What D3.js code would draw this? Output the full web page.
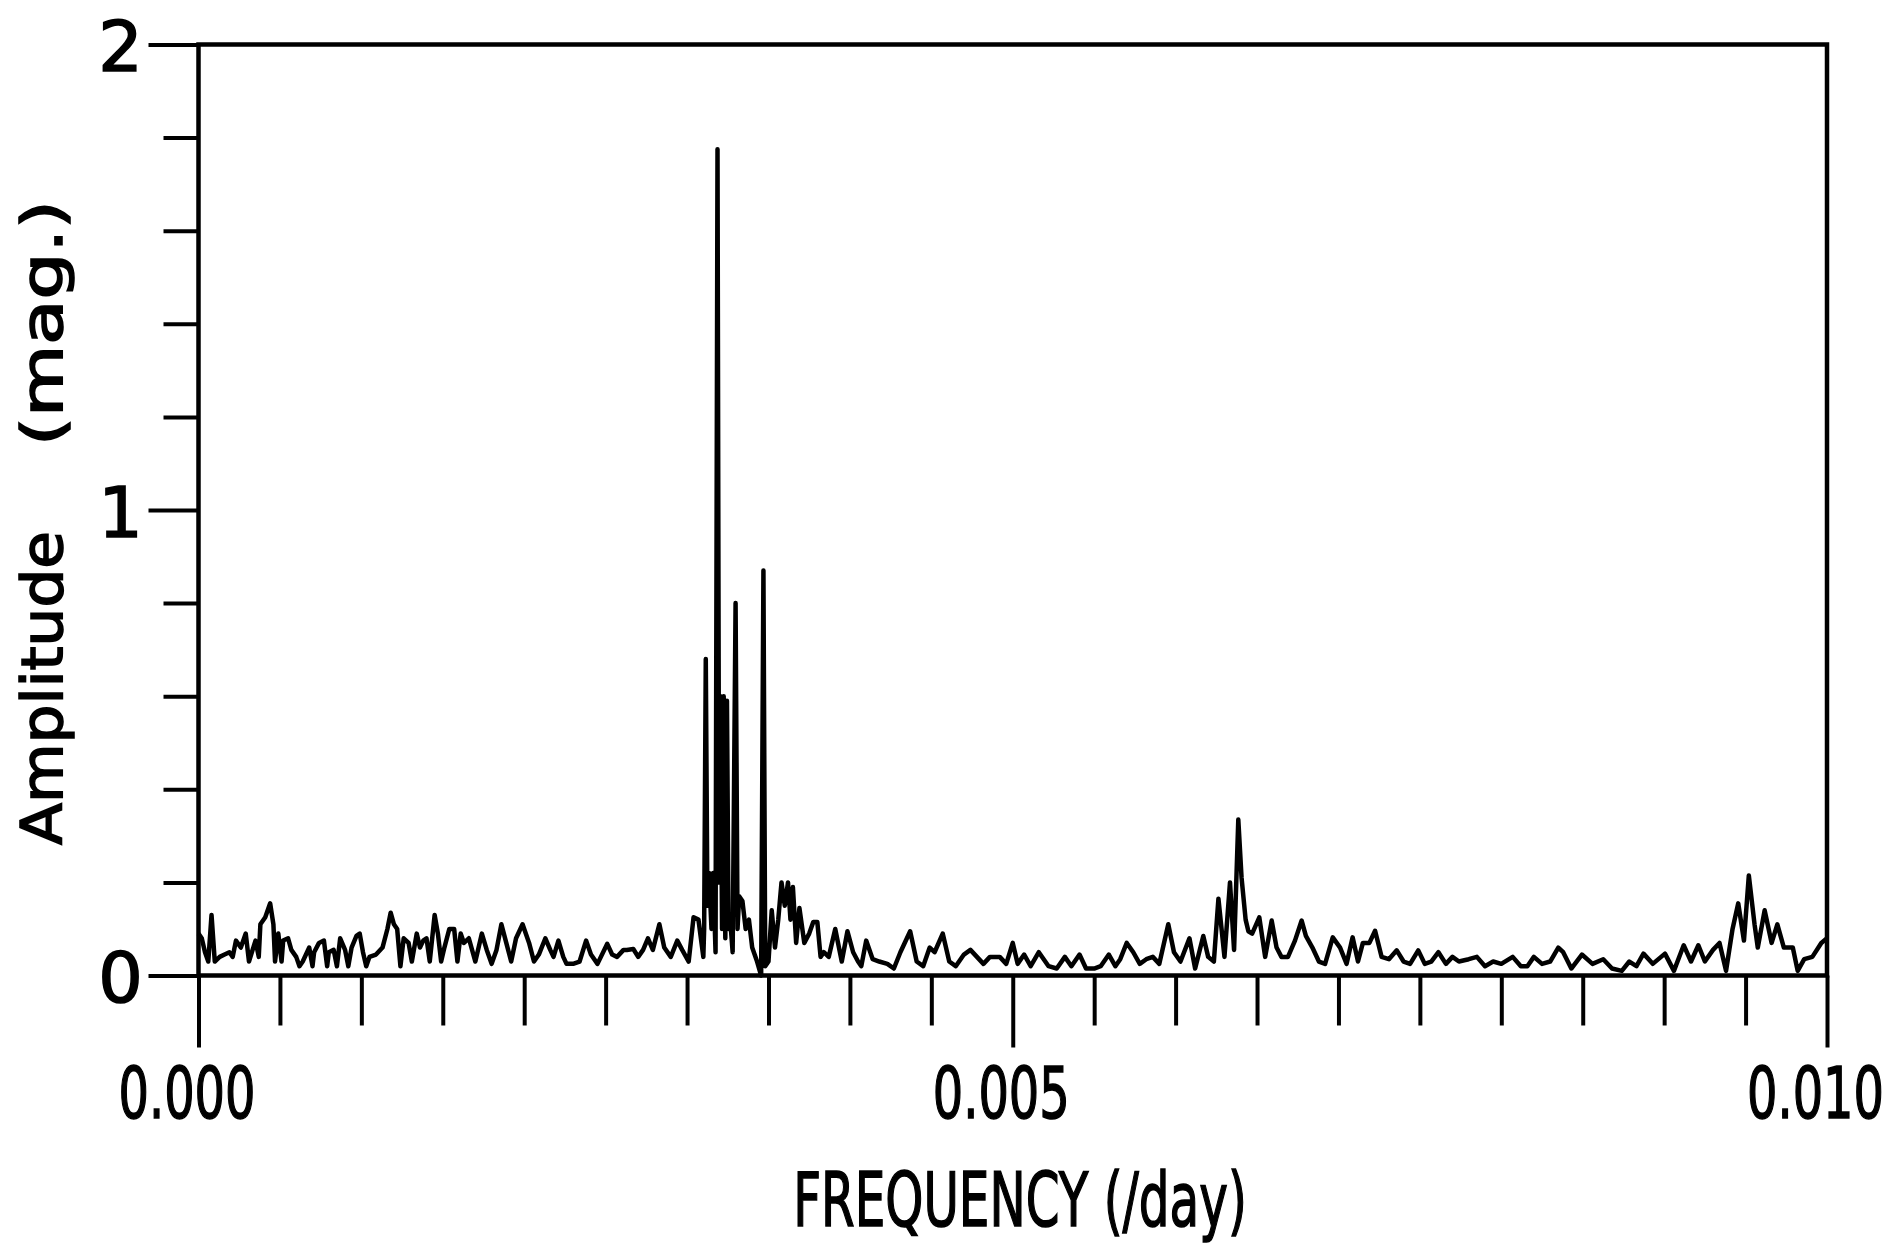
<!DOCTYPE html>
<html>
<head>
<meta charset="utf-8">
<script src="https://cdn.jsdelivr.net/npm/d3@7"></script>
<style>
  html, body { margin: 0; padding: 0; background: #fff; }
  svg { display: block; }
  .frame { fill: none; stroke: #000; stroke-width: 4.5; }
  .trace { fill: none; stroke: #000; stroke-width: 4.5; stroke-linejoin: round; }
  .tick line { stroke: #000; stroke-width: 4; }
  .axis-text { font-family: 'DejaVu Sans', sans-serif; fill: #000; stroke: #000; stroke-width: 1.6; }
</style>
</head>
<body>
<div id="chart"></div>
<script>
// Tick values and labels
const xMajorTicks = [0, 0.005, 0.010]
const xTickLabels = ['0.000', '0.005', '0.010']
const yMajorTicks = [0, 1, 2]
const yTickLabels = ['0', '1', '2']
const xTitle = 'FREQUENCY  (/day)'
const yTitle = ['Amplitude', '(mag.)']

// Amplitude spectrum: [frequency (/day), amplitude (mag.)]
const spectrum = [
  [0.00000, 0.09], [0.00002, 0.08], [0.00004, 0.05], [0.00006, 0.03], [0.00008, 0.13],
  [0.00010, 0.03], [0.00013, 0.04], [0.00016, 0.045], [0.00019, 0.05], [0.00021, 0.04],
  [0.00023, 0.075], [0.00026, 0.06], [0.00029, 0.09], [0.00031, 0.03], [0.00035, 0.075],
  [0.00037, 0.04], [0.00038, 0.11], [0.00041, 0.125], [0.00044, 0.155], [0.00046, 0.11],
  [0.00047, 0.03], [0.00049, 0.09], [0.00051, 0.03], [0.00052, 0.075], [0.00055, 0.08],
  [0.00057, 0.055], [0.00060, 0.04], [0.00062, 0.02], [0.00064, 0.03], [0.00068, 0.06],
  [0.00070, 0.02], [0.00071, 0.05], [0.00074, 0.07], [0.00077, 0.075], [0.00079, 0.02],
  [0.00080, 0.05], [0.00083, 0.055], [0.00085, 0.02], [0.00087, 0.08], [0.00090, 0.055],
  [0.00092, 0.02], [0.00094, 0.06], [0.00097, 0.085], [0.00099, 0.09], [0.00101, 0.05],
  [0.00103, 0.02], [0.00105, 0.04], [0.00109, 0.045], [0.00113, 0.06], [0.00116, 0.10],
  [0.00118, 0.135], [0.00120, 0.11], [0.00122, 0.10], [0.00124, 0.02], [0.00126, 0.08],
  [0.00129, 0.07], [0.00131, 0.03], [0.00134, 0.09], [0.00136, 0.06], [0.00138, 0.075],
  [0.00140, 0.08], [0.00142, 0.03], [0.00145, 0.13], [0.00147, 0.09], [0.00149, 0.03],
  [0.00151, 0.06], [0.00154, 0.10], [0.00157, 0.10], [0.00159, 0.03], [0.00161, 0.09],
  [0.00163, 0.07], [0.00166, 0.08], [0.00170, 0.03], [0.00174, 0.09], [0.00177, 0.055],
  [0.00180, 0.025], [0.00183, 0.055], [0.00186, 0.11], [0.00189, 0.07], [0.00192, 0.03],
  [0.00195, 0.08], [0.00199, 0.11], [0.00203, 0.07], [0.00206, 0.03], [0.00209, 0.045],
  [0.00213, 0.08], [0.00216, 0.055], [0.00218, 0.04], [0.00221, 0.075], [0.00224, 0.04],
  [0.00226, 0.025], [0.00230, 0.025], [0.00234, 0.03], [0.00238, 0.075], [0.00241, 0.045],
  [0.00245, 0.025], [0.00251, 0.068], [0.00254, 0.045], [0.00257, 0.04], [0.00261, 0.055],
  [0.00263, 0.055], [0.00267, 0.057], [0.00270, 0.04], [0.00273, 0.055], [0.00276, 0.08],
  [0.00279, 0.055], [0.00283, 0.11], [0.00286, 0.06], [0.00290, 0.04], [0.00294, 0.075],
  [0.00297, 0.055], [0.00301, 0.03], [0.00304, 0.125], [0.00307, 0.12], [0.00310, 0.04],
  [0.003105, 0.10], [0.003115, 0.68], [0.003125, 0.15], [0.003135, 0.22], [0.00315, 0.10],
  [0.00316, 0.22], [0.003175, 0.05], [0.003187, 1.775], [0.003197, 0.20], [0.003205, 0.60],
  [0.003215, 0.10], [0.003225, 0.60], [0.003235, 0.08], [0.003245, 0.59], [0.003255, 0.10],
  [0.003265, 0.12], [0.00328, 0.05], [0.003298, 0.80], [0.00331, 0.10], [0.00332, 0.17],
  [0.00334, 0.16], [0.00336, 0.10], [0.00338, 0.12], [0.00340, 0.06], [0.00343, 0.03],
  [0.003455, 0.0], [0.003469, 0.87], [0.00348, 0.02], [0.00350, 0.03], [0.00352, 0.14],
  [0.00354, 0.06], [0.00356, 0.12], [0.00358, 0.20], [0.00360, 0.15], [0.00362, 0.20],
  [0.003635, 0.12], [0.00365, 0.19], [0.00367, 0.07], [0.00369, 0.145], [0.00372, 0.07],
  [0.00375, 0.09], [0.003775, 0.115], [0.00380, 0.115], [0.00382, 0.04], [0.00384, 0.05],
  [0.00387, 0.04], [0.00391, 0.10], [0.00395, 0.03], [0.003985, 0.095], [0.00402, 0.05],
  [0.00405, 0.03], [0.00407, 0.02], [0.00410, 0.075], [0.00414, 0.035], [0.00418, 0.03],
  [0.00423, 0.025], [0.00427, 0.015], [0.00431, 0.05], [0.00437, 0.095], [0.00441, 0.03],
  [0.00445, 0.02], [0.00449, 0.06], [0.00452, 0.05], [0.00457, 0.09], [0.00461, 0.03],
  [0.00465, 0.02], [0.00470, 0.045], [0.00474, 0.055], [0.00478, 0.04], [0.00482, 0.025],
  [0.00486, 0.04], [0.00492, 0.04], [0.00496, 0.025], [0.00500, 0.07], [0.00503, 0.025],
  [0.00507, 0.045], [0.00511, 0.02], [0.00516, 0.05], [0.00519, 0.035], [0.00522, 0.02],
  [0.00527, 0.015], [0.00532, 0.04], [0.00536, 0.02], [0.00541, 0.045], [0.00545, 0.015],
  [0.00550, 0.015], [0.00554, 0.02], [0.00559, 0.045], [0.00563, 0.02], [0.00566, 0.035],
  [0.00570, 0.07], [0.00574, 0.05], [0.00578, 0.025], [0.00582, 0.035], [0.00586, 0.04],
  [0.00590, 0.025], [0.005955, 0.11], [0.00599, 0.05], [0.00603, 0.03], [0.006085, 0.08],
  [0.00612, 0.015], [0.00617, 0.085], [0.00620, 0.04], [0.006235, 0.03], [0.006263, 0.165],
  [0.00630, 0.04], [0.006334, 0.20], [0.006359, 0.055], [0.006385, 0.335], [0.006405, 0.21],
  [0.00643, 0.12], [0.006447, 0.095], [0.00647, 0.09], [0.006514, 0.125], [0.00655, 0.04],
  [0.00659, 0.118], [0.00662, 0.06], [0.00665, 0.04], [0.00669, 0.04], [0.006733, 0.075],
  [0.006774, 0.118], [0.00680, 0.085], [0.00684, 0.06], [0.00688, 0.03], [0.006918, 0.025],
  [0.006965, 0.082], [0.00701, 0.06], [0.00705, 0.025], [0.007087, 0.082], [0.00712, 0.03],
  [0.00715, 0.07], [0.00719, 0.07], [0.007225, 0.096], [0.007265, 0.04], [0.00731, 0.035],
  [0.007358, 0.054], [0.00740, 0.03], [0.00744, 0.025], [0.00749, 0.054], [0.00753, 0.025],
  [0.00757, 0.03], [0.007614, 0.05], [0.00766, 0.025], [0.00770, 0.04], [0.00774, 0.03],
  [0.00780, 0.035], [0.00785, 0.04], [0.00790, 0.02], [0.00795, 0.03], [0.00800, 0.025],
  [0.00807, 0.04], [0.00812, 0.02], [0.00816, 0.02], [0.00820, 0.04], [0.00825, 0.025],
  [0.00830, 0.03], [0.00835, 0.06], [0.00838, 0.05], [0.00843, 0.015], [0.008495, 0.045],
  [0.00856, 0.025], [0.008626, 0.035], [0.00868, 0.015], [0.00874, 0.01], [0.008786, 0.03],
  [0.00883, 0.02], [0.008873, 0.047], [0.00893, 0.025], [0.009005, 0.047], [0.00906, 0.01],
  [0.00912, 0.065], [0.009165, 0.03], [0.00921, 0.065], [0.00925, 0.03], [0.00930, 0.055],
  [0.00934, 0.07], [0.00938, 0.01], [0.00942, 0.10], [0.009455, 0.155], [0.00949, 0.075],
  [0.00952, 0.215], [0.009555, 0.11], [0.009575, 0.06], [0.009617, 0.14], [0.00966, 0.07],
  [0.009695, 0.11], [0.009735, 0.06], [0.00979, 0.06], [0.00982, 0.01], [0.00986, 0.035],
  [0.00991, 0.04], [0.009965, 0.07], [0.01000, 0.08]
]

const containerElement = '#chart'
const width = 1894
const height = 1249
const margin = { top: 44.5, right: 67, bottom: 273.5, left: 198.5 }
const innerWidth = width - margin.left - margin.right
const innerHeight = height - margin.top - margin.bottom

const svg = d3.select(containerElement)
  .append('svg')
  .attr('width', width)
  .attr('height', height)

const g = svg.append('g')
  .attr('transform', `translate(${margin.left}, ${margin.top})`)

// Scales
const xScale = d3.scaleLinear().domain([0, 0.010]).range([0, innerWidth])
const yScale = d3.scaleLinear().domain([0, 2]).range([innerHeight, 0])

// Minor ticks every 0.0005 and 0.2
const isMajor = (list, d) => list.some(m => Math.abs(m - d) < 1e-9)
const xMinorTicks = xScale.ticks(20).filter(d => !isMajor(xMajorTicks, d))
const yMinorTicks = yScale.ticks(10).filter(d => !isMajor(yMajorTicks, d))

// Narrow lettering for the frequency labels
const xLabelSqueeze = 0.665

// Bottom axis - minor ticks
g.append('g')
  .attr('transform', `translate(0, ${innerHeight})`)
  .call(d3.axisBottom(xScale).tickValues(xMinorTicks).tickSize(50).tickFormat(''))
  .call(ax => ax.select('.domain').remove())

// Bottom axis - major ticks with labels
g.append('g')
  .attr('transform', `translate(0, ${innerHeight})`)
  .call(d3.axisBottom(xScale).tickValues(xMajorTicks).tickSize(72)
    .tickFormat((d, i) => xTickLabels[i]))
  .call(ax => ax.select('.domain').remove())
  .call(ax => ax.selectAll('text')
    .attr('class', 'axis-text')
    .attr('y', 143)
    .attr('dy', 0)
    .attr('x', -12 / xLabelSqueeze)
    .attr('font-size', 72)
    .attr('transform', `scale(${xLabelSqueeze}, 1)`))

// Left axis - minor ticks
g.append('g')
  .call(d3.axisLeft(yScale).tickValues(yMinorTicks).tickSize(35).tickFormat(''))
  .call(ax => ax.select('.domain').remove())

// Left axis - major ticks with labels
g.append('g')
  .call(d3.axisLeft(yScale).tickValues(yMajorTicks).tickSize(50)
    .tickFormat((d, i) => yTickLabels[i]))
  .call(ax => ax.select('.domain').remove())
  .call(ax => ax.selectAll('text')
    .attr('class', 'axis-text')
    .attr('x', -78)
    .attr('y', 26)
    .attr('dy', 0)
    .attr('text-anchor', 'middle')
    .attr('font-size', 70))

// Frame
g.append('rect')
  .attr('class', 'frame')
  .attr('x', xScale(0))
  .attr('y', yScale(2))
  .attr('width', xScale(0.010) - xScale(0))
  .attr('height', yScale(0) - yScale(2))

// Spectrum line
const line = d3.line()
  .x(d => xScale(d[0]))
  .y(d => yScale(d[1]))

g.append('path')
  .datum(spectrum)
  .attr('class', 'trace')
  .attr('d', line)

// X axis title
svg.append('text')
  .attr('class', 'axis-text')
  .attr('transform', 'translate(1020, 1226) scale(0.646, 1)')
  .attr('text-anchor', 'middle')
  .attr('font-size', 75)
  .text(xTitle)

// Y axis title - two words with a wide gap, as in the original
const yTitleParts = [
  { text: yTitle[0], centre: 688, stretch: 1.075 },
  { text: yTitle[1], centre: 323, stretch: 1.3 }
]

svg.selectAll('.y-title')
  .data(yTitleParts)
  .join('text')
  .attr('class', 'axis-text y-title')
  .attr('transform', d => `translate(62, ${d.centre}) rotate(-90) scale(${d.stretch}, 1)`)
  .attr('text-anchor', 'middle')
  .attr('font-size', 57)
  .text(d => d.text)
</script>
</body>
</html>
